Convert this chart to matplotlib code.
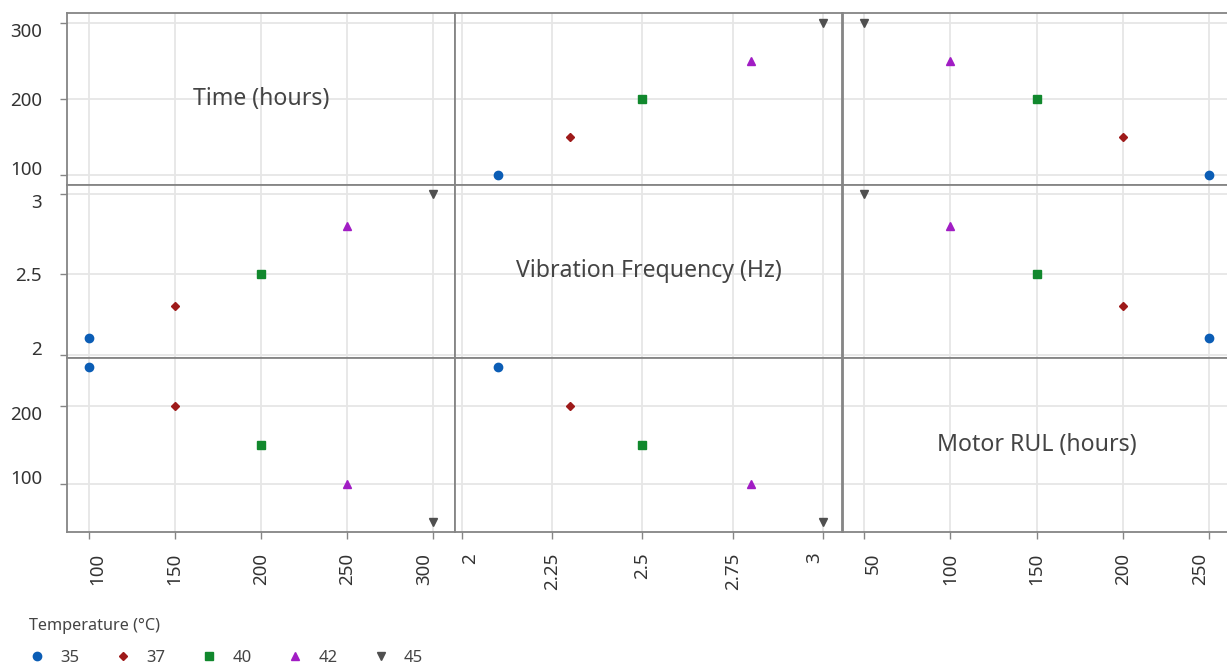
import matplotlib

matplotlib.use("Agg")
import matplotlib.pyplot as plt
from matplotlib.lines import Line2D

# data, one row per temperature group
temperature = ["35", "37", "40", "42", "45"]
time_hours = [100, 150, 200, 250, 300]
vibration_hz = [2.1, 2.3, 2.5, 2.8, 3.0]
motor_rul = [250, 200, 150, 100, 50]

variables = ["Time (hours)", "Vibration Frequency (Hz)", "Motor RUL (hours)"]
columns = [time_hours, vibration_hz, motor_rul]
x_ticks = [[100, 150, 200, 250, 300], [2, 2.25, 2.5, 2.75, 3], [50, 100, 150, 200, 250]]
y_ticks = [[100, 200, 300], [2, 2.5, 3], [100, 200]]

limits = [(87.5, 312.5), (1.982, 3.053), (37.5, 262.5)]
colors = ["#0B5DB5", "#9E1A1A", "#11882D", "#A11DC4", "#4F4F4F"]
markers = ["o", "D", "s", "^", "v"]
sizes = [6, 4.2, 5.6, 6, 6]

plt.rcParams["font.family"] = ["Noto Sans", "DejaVu Sans"]

W, H = 1227, 665
fig = plt.figure(figsize=(W / 100, H / 100), dpi=100)

col_edges = [67, 455, 842.5, 1230.6]
row_edges = [13, 185, 357.5, 532]

spine_col = "#858585"
grid_col = "#E6E6E6"
text_col = "#333333"

for r in range(3):
    for c in range(3):
        x0, x1 = col_edges[c], col_edges[c + 1]
        y0, y1 = row_edges[r], row_edges[r + 1]
        ax = fig.add_axes([x0 / W, 1 - y1 / H, (x1 - x0) / W, (y1 - y0) / H])
        ax.set_xlim(*limits[c])
        ax.set_ylim(*limits[r])
        ax.set_xticks(x_ticks[c])
        ax.set_yticks(y_ticks[r])
        ax.grid(True, color=grid_col, linewidth=1.3, zorder=0)
        ax.set_axisbelow(True)
        for s in ax.spines.values():
            s.set_color(spine_col)
            s.set_linewidth(1.3)
        ax.tick_params(colors=spine_col, length=5, width=1, labelcolor=text_col, labelsize=13.5)
        if c == 0:
            ax.set_yticklabels([f"{v:g}" for v in y_ticks[r]])
            ax.tick_params(axis="y", pad=13)
            # first / last labels sit flush inside the cell
            yl = ax.get_yticklabels()
            yl[0].set_va("baseline")
            yl[-1].set_va("top")
        else:
            ax.tick_params(axis="y", left=False, labelleft=False)
        if r == 2:
            ax.set_xticklabels([f"{v:g}" for v in x_ticks[c]], rotation=90)
            ax.tick_params(axis="x", pad=10)
            xl = ax.get_xticklabels()
            xl[0].set_ha("left")
            xl[-1].set_ha("right")
        else:
            ax.tick_params(axis="x", bottom=False, labelbottom=False)

        if r == c:
            ax.text(0.5, 0.5, variables[r], transform=ax.transAxes, ha="center", va="center",
                    fontsize=16.6, color="#444444")
            continue
        for i in range(len(temperature)):
            ax.plot(columns[c][i], columns[r][i], linestyle="none", marker=markers[i],
                    markersize=sizes[i], color=colors[i], clip_on=False, zorder=3)

handles = [
    Line2D([], [], linestyle="none", marker=m, markersize=s, color=col)
    for m, s, col in zip(markers, sizes, colors)
]
leg = fig.legend(handles, temperature, title="Temperature (°C)", ncol=5, loc="upper left",
                 bbox_to_anchor=(14 / W, 1 - 603 / H), frameon=False, alignment="left",
                 fontsize=12, title_fontsize=11.7, handlelength=1.0, handletextpad=0.9,
                 columnspacing=2.1, labelspacing=0.95)
for t in leg.get_texts():
    t.set_color("#444444")
leg.get_title().set_color("#444444")

fig.savefig("out.png", dpi=100)
